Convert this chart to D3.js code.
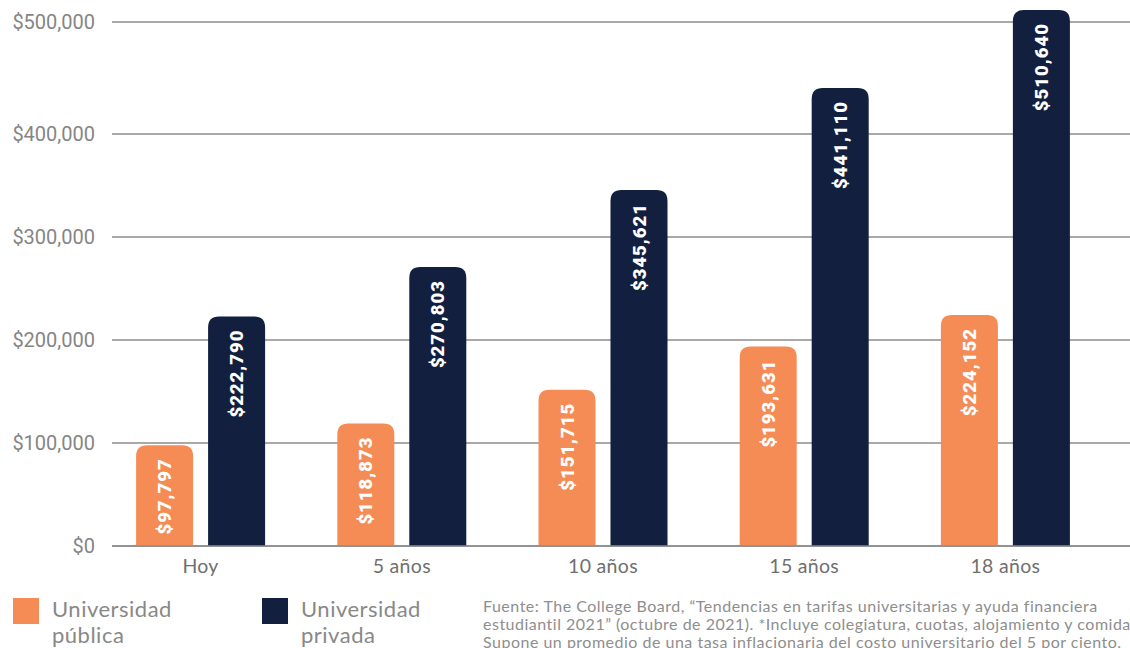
<!DOCTYPE html>
<html>
<head>
<meta charset="utf-8">
<script src="https://cdn.jsdelivr.net/npm/d3@7"></script>
<style>
  body { margin: 0; background: #fff; }
  svg { display: block; }
</style>
</head>
<body>
<div id="chart"></div>
<script>
const categories = ['Hoy', '5 años', '10 años', '15 años', '18 años'];
const series = ['Universidad pública', 'Universidad privada'];
const publicValues = [97797, 118873, 151715, 193631, 224152];
const privateValues = [222790, 270803, 345621, 441110, 510640];
const yTicks = [0, 100000, 200000, 300000, 400000, 500000];
const legendLines = [['Universidad', 'pública'], ['Universidad', 'privada']];
const sourceLines = [
  'Fuente: The College Board, “Tendencias en tarifas universitarias y ayuda financiera',
  'estudiantil 2021” (octubre de 2021). *Incluye colegiatura, cuotas, alojamiento y comida.',
  'Supone un promedio de una tasa inflacionaria del costo universitario del 5 por ciento.'
];

const colors = { 'Universidad pública': '#F58C55', 'Universidad privada': '#131F3E' };
const width = 1130;
const height = 648;

const svg = d3.select('#chart')
  .append('svg')
  .attr('width', width)
  .attr('height', height);

// gridlines in the original are not evenly spaced at the top
const y = d3.scaleLinear()
  .domain([0, 400000, 500000])
  .range([546, 134, 22]);

const x0 = d3.scaleBand().domain(categories).range([100, 1106]);
const x1 = d3.scaleBand().domain(series).range([0, 129]).paddingInner(0.208);
const groupOffset = (x0.bandwidth() - 129) / 2;

// gridlines + y labels
const gGrid = svg.append('g');
gGrid.selectAll('line')
  .data(yTicks)
  .enter()
  .append('line')
  .attr('x1', 112)
  .attr('x2', width)
  .attr('y1', d => y(d))
  .attr('y2', d => y(d))
  .attr('stroke', '#8c8c8c')
  .attr('stroke-width', 1.5);

gGrid.selectAll('text')
  .data(yTicks)
  .enter()
  .append('text')
  .attr('x', 95)
  .attr('y', d => y(d))
  .attr('dy', '0.35em')
  .attr('text-anchor', 'end')
  .attr('fill', '#858585')
  .attr('font-family', 'Roboto, sans-serif')
  .attr('font-size', 20)
  .text(d => '$' + d3.format(',')(d));

// bars with rounded tops
function barPath(x, top, w, bottom, r) {
  const rr = Math.min(r, (bottom - top) / 2);
  return `M${x},${bottom}V${top + rr}Q${x},${top} ${x + rr},${top}` +
    `H${x + w - rr}Q${x + w},${top} ${x + w},${top + rr}V${bottom}Z`;
}

const rows = categories.map((c, i) => ({
  cat: c,
  vals: [
    { s: series[0], v: publicValues[i] },
    { s: series[1], v: privateValues[i] }
  ]
}));

const groups = svg.append('g')
  .selectAll('g')
  .data(rows)
  .enter()
  .append('g')
  .attr('transform', d => `translate(${x0(d.cat) + groupOffset},0)`);

groups.selectAll('path')
  .data(d => d.vals)
  .enter()
  .append('path')
  .attr('fill', d => colors[d.s])
  .attr('d', d => barPath(x1(d.s), y(d.v), x1.bandwidth(), y(0), 11));

groups.selectAll('text')
  .data(d => d.vals)
  .enter()
  .append('text')
  .attr('transform', d => `translate(${x1(d.s) + x1.bandwidth() / 2},${y(d.v) + 13}) rotate(-90)`)
  .attr('dy', '0.36em')
  .attr('text-anchor', 'end')
  .attr('fill', '#fff')
  .attr('font-family', 'Roboto, sans-serif')
  .attr('font-weight', 900)
  .attr('font-size', 18.5)
  .attr('letter-spacing', 1)
  .text(d => '$' + d3.format(',')(d.v));

// baseline on top of bars
svg.append('line')
  .attr('x1', 112)
  .attr('x2', width)
  .attr('y1', y(0))
  .attr('y2', y(0))
  .attr('stroke', '#8c8c8c')
  .attr('stroke-width', 1.5);

// x labels
svg.append('g')
  .selectAll('text')
  .data(categories)
  .enter()
  .append('text')
  .attr('x', d => x0(d) + x0.bandwidth() / 2)
  .attr('y', 566)
  .attr('dy', '0.35em')
  .attr('text-anchor', 'middle')
  .attr('fill', '#6f6f6f')
  .attr('font-family', 'Lato, sans-serif')
  .attr('font-size', 19.5)
  .attr('letter-spacing', 0.3)
  .text(d => d);

// legend
const legend = svg.append('g')
  .selectAll('g')
  .data(series)
  .enter()
  .append('g')
  .attr('transform', (d, i) => `translate(${13 + i * 249},598)`);

legend.append('rect')
  .attr('width', 26)
  .attr('height', 26)
  .attr('fill', d => colors[d]);

legend.append('text')
  .attr('x', 39)
  .attr('fill', '#888')
  .attr('font-family', 'Lato, sans-serif')
  .attr('font-size', 22)
  .attr('letter-spacing', 0.5)
  .selectAll('tspan')
  .data((d, i) => legendLines[i])
  .enter()
  .append('tspan')
  .attr('x', 39)
  .attr('y', (d, i) => 19 + i * 26)
  .text(d => d);

// source note (clipped at the page edge, as in the original)
svg.append('text')
  .attr('fill', '#8e8e8e')
  .attr('font-family', 'Lato, sans-serif')
  .attr('font-size', 16)
  .attr('letter-spacing', 0.5)
  .selectAll('tspan')
  .data(sourceLines)
  .enter()
  .append('tspan')
  .attr('x', 483)
  .attr('y', (d, i) => 612 + i * 18)
  .text(d => d);
</script>
</body>
</html>
